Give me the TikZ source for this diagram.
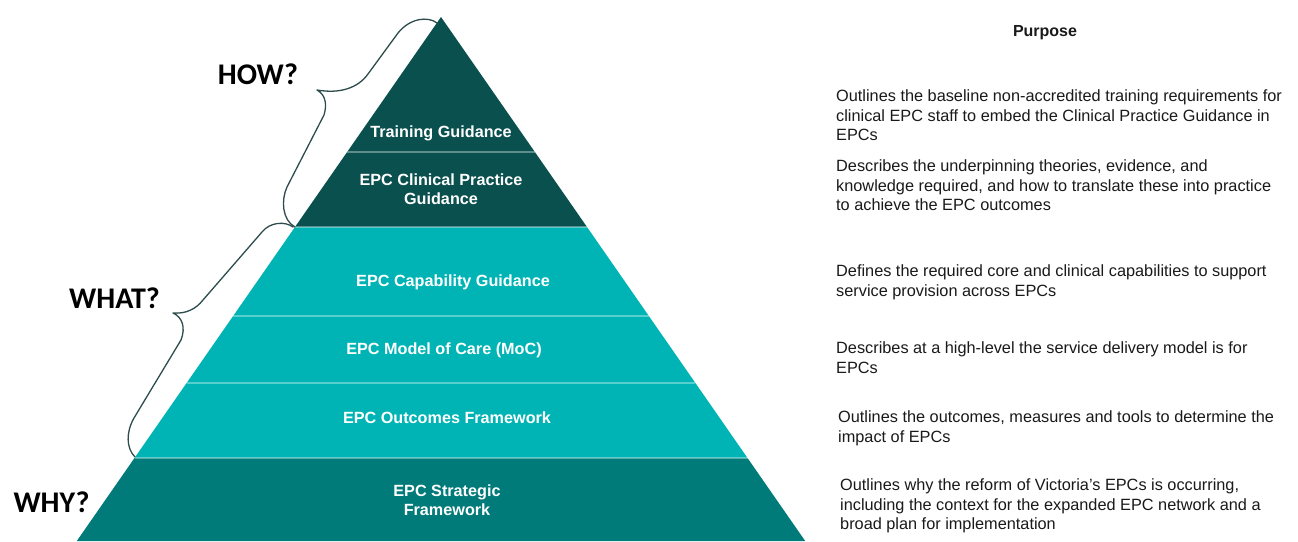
\documentclass[tikz,border=0pt]{standalone}
\usepackage{fontspec}
\setmainfont{Liberation Sans}
\newfontfamily\carlito{Carlito}
\definecolor{topdark}{HTML}{0A504F}
\definecolor{tealmid}{HTML}{00B4B5}
\definecolor{tealdark}{HTML}{007B7A}
\definecolor{bracecol}{HTML}{2E4C4C}
\definecolor{textgray}{HTML}{1A1A1A}
\begin{document}
\begin{tikzpicture}[x=1pt,y=-1pt,
  lbl/.style={text=white,font=\fontsize{16.2}{19}\selectfont\bfseries,align=center,anchor=north,inner sep=0pt},
  desc/.style={text=textgray,font=\fontsize{16.3}{19.5}\selectfont,align=left,anchor=north west,inner sep=0pt},
  qlabel/.style={text=black,font={\carlito\bfseries\fontsize{30}{36}\selectfont},inner sep=0pt},
  bracepath/.style={draw=bracecol,line width=1.3pt,line join=round,line cap=round},
  divider/.style={draw=white,draw opacity=0.35,line width=1.2pt}]
\useasboundingbox (0,0) rectangle (1298,541);
\fill[white] (0,0) rectangle (1298,541);
% pyramid layers
\fill[topdark] (441,17) -- (587,227) -- (295,227) -- cycle;
\fill[tealmid] (295,227) -- (587,227) -- (747.5,458) -- (134.5,458) -- cycle;
\fill[tealdark] (134.5,458) -- (747.5,458) -- (805.2,541) -- (76.8,541) -- cycle;
% dividers
\draw[divider] (347.2,152) -- (534.8,152);
\draw[divider] (295,227) -- (587,227);
\draw[divider] (233.2,316) -- (648.8,316);
\draw[divider] (186.6,383) -- (695.4,383);
\draw[divider] (134.5,458) -- (747.5,458);
% braces
\draw[bracepath] (437,23) .. controls (428,16) and (410,18) .. (398,33) -- (368,74)
  .. controls (358,88) and (340,94) .. (317,90)
  .. controls (326,95) and (327,105) .. (324,115) -- (287,187)
  .. controls (281,200) and (282,220) .. (295,227);
\draw[bracepath] (293,227) .. controls (285,221) and (270,222) .. (262,232) -- (203,300)
  .. controls (196,309) and (186,314) .. (173,313)
  .. controls (182,317) and (186,327) .. (181,340) -- (134,418)
  .. controls (126,432) and (126,448) .. (135,457);
% question labels
\node[qlabel] (how) at (258,74) {HOW?};
\node[qlabel] (what) at (114.5,298) {WHAT?};
\node[qlabel] (why) at (51.5,502) {WHY?};
% layer labels
\node[lbl] (training) at (441,126) {Training Guidance};
\node[lbl] (clinical) at (441,174) {EPC Clinical Practice\\Guidance};
\node[lbl] (capability) at (453,275) {EPC Capability Guidance};
\node[lbl] (moc) at (444,343) {EPC Model of Care (MoC)};
\node[lbl] (outcomes) at (447,412) {EPC Outcomes Framework};
\node[lbl] (strategic) at (447,485) {EPC Strategic\\Framework};
% purpose column
\node[text=textgray,font=\fontsize{16}{19}\selectfont\bfseries,anchor=north,inner sep=0pt] (purpose) at (1045,25) {Purpose};
\node[desc] (d1) at (836,89.5) {Outlines the baseline non-accredited training requirements for\\clinical EPC staff to embed the Clinical Practice Guidance in\\EPCs};
\node[desc] (d2) at (836,159.5) {Describes the underpinning theories, evidence, and\\knowledge required, and how to translate these into practice\\to achieve the EPC outcomes};
\node[desc] (d3) at (836,264.5) {Defines the required core and clinical capabilities to support\\service provision across EPCs};
\node[desc] (d4) at (836,341.5) {Describes at a high-level the service delivery model is for\\EPCs};
\node[desc] (d5) at (838,410.5) {Outlines the outcomes, measures and tools to determine the\\impact of EPCs};
\node[desc] (d6) at (840,478.5) {Outlines why the reform of Victoria’s EPCs is occurring,\\including the context for the expanded EPC network and a\\broad plan for implementation};
\end{tikzpicture}
\end{document}
